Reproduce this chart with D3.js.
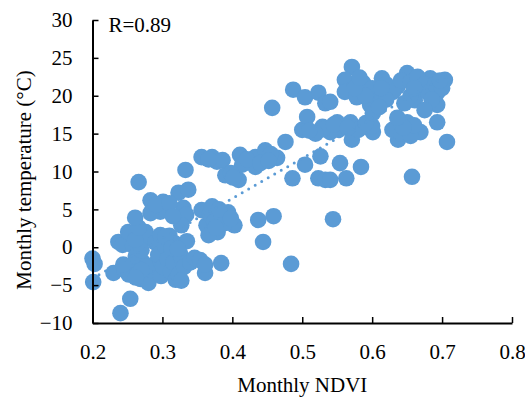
<!DOCTYPE html>
<html>
<head>
<meta charset="utf-8">
<script src="https://cdn.jsdelivr.net/npm/d3@7/dist/d3.min.js"></script>
<style>
  body { margin: 0; background: #fff; }
  svg { display: block; }
</style>
</head>
<body>
<div id="chart"></div>
<script>
// monthly NDVI (x) and monthly temperature (y)
const ndvi = [
  0.200, 0.203, 0.201, 0.230, 0.237, 0.243, 0.240, 0.254, 0.246, 0.252,
  0.256, 0.258, 0.251, 0.262, 0.266, 0.269, 0.272, 0.276, 0.281, 0.280,
  0.284, 0.288, 0.290, 0.294, 0.297, 0.298, 0.301, 0.304, 0.307, 0.310,
  0.312, 0.316, 0.318, 0.319, 0.323, 0.325, 0.327, 0.331, 0.335, 0.340,
  0.346, 0.354, 0.361, 0.270, 0.276, 0.270, 0.304, 0.313, 0.261, 0.266,
  0.322, 0.327, 0.262,
  0.261, 0.266, 0.283, 0.301, 0.297, 0.283, 0.323, 0.337, 0.330, 0.334,
  0.327, 0.356, 0.363, 0.333, 0.356, 0.291, 0.310, 0.315, 0.244,
  0.361, 0.384, 0.444, 0.437, 0.459, 0.403, 0.484, 0.368, 0.374, 0.379,
  0.385, 0.390, 0.394, 0.366, 0.371, 0.381, 0.398, 0.376,
  0.371, 0.378, 0.386, 0.411, 0.433, 0.447, 0.464, 0.390, 0.409, 0.433,
  0.414, 0.421, 0.440, 0.455, 0.452, 0.476, 0.486, 0.504, 0.523, 0.533,
  0.526, 0.500, 0.529, 0.507, 0.487, 0.504, 0.523, 0.533, 0.457, 0.398,
  0.366, 0.401,
  0.554, 0.584, 0.563, 0.540, 0.657, 0.544, 0.707, 0.571, 0.601, 0.587,
  0.550, 0.569, 0.637, 0.629, 0.669, 0.650, 0.693, 0.600, 0.552, 0.560,
  0.580, 0.540, 0.530, 0.519, 0.510, 0.545, 0.565, 0.591, 0.642, 0.655,
  0.660, 0.645,
  0.571, 0.561, 0.561, 0.587, 0.614, 0.650, 0.683, 0.704, 0.636, 0.669,
  0.693, 0.607, 0.578, 0.661, 0.693, 0.597, 0.540, 0.601, 0.636, 0.620,
  0.630, 0.641, 0.655, 0.665, 0.675, 0.680, 0.690, 0.700, 0.600, 0.590,
  0.575, 0.582, 0.655, 0.646, 0.620, 0.610, 0.685, 0.697, 0.675, 0.660,
  0.613
];
const temperature = [
  -1.5, -2.2, -4.6, -3.4, 0.7, 0.3, -8.7, -6.8, -3.0, -3.6,
  -2.4, 0.2, 2.0, -1.2, -3.4, -4.2, -2.0, 2.0, 1.2, -4.7,
  -3.0, -2.3, 0.6, -1.0, 1.6, -3.8, -2.6, 0.1, -1.6, 1.5,
  -3.2, -2.0, 0.5, -4.3, -3.6, -0.8, -1.3, -2.6, 0.8, -2.0,
  -1.4, -1.7, -3.4, -0.4, -2.6, -3.0, 1.4, -0.1, 1.0, 2.6,
  -0.2, -4.4, -4.0,
  3.9, 8.6, 6.2, 6.0, 4.7, 4.5, 7.2, 7.6, 5.2, 4.3,
  2.9, 4.9, 2.9, 10.2, 11.9, 5.6, 5.8, 4.1, -2.3,
  -2.3, -2.1, 0.7, 3.6, 4.1, 2.9, -2.2, 4.4, 3.4, 2.0,
  4.1, 3.2, 4.6, 1.6, 5.4, 5.0, 3.8, 2.6,
  11.9, 11.3, 11.5, 12.2, 11.9, 12.8, 11.8, 9.5, 8.9, 10.6,
  10.9, 11.6, 11.1, 12.3, 11.4, 13.9, 9.1, 10.9, 9.1, 8.9,
  12.0, 15.5, 15.9, 17.2, 20.8, 19.8, 20.4, 19.0, 18.4, 9.8,
  11.6, 9.2,
  11.1, 10.6, 9.1, 8.9, 9.3, 3.7, 13.9, 14.2, 15.2, 15.9,
  16.5, 16.5, 14.2, 15.5, 15.2, 16.5, 16.5, 16.0, 15.5, 16.0,
  15.5, 15.2, 15.6, 15.0, 15.4, 16.2, 15.8, 16.4, 15.0, 14.7,
  16.1, 15.8,
  23.8, 22.1, 20.5, 21.7, 22.3, 23.0, 22.3, 22.1, 21.2, 20.8,
  20.4, 20.4, 19.8, 19.4, 18.8, 18.8, 19.2, 17.7, 17.1, 21.5,
  20.5, 22.0, 21.8, 22.5, 21.5, 20.4, 21.5, 21.0, 21.0, 20.0,
  21.0, 22.4, 20.0, 19.0, 19.5, 18.5, 19.5, 22.0, 18.1, 21.0,
  21.0
];
const xTicks = [0.2, 0.3, 0.4, 0.5, 0.6, 0.7, 0.8];
const yTicks = [-10, -5, 0, 5, 10, 15, 20, 25, 30];
const rLabel = "R=0.89";

const width = 525, height = 398;
const margin = { top: 20, right: 13, bottom: 75, left: 92.5 };
const w = width - margin.left - margin.right;
const h = height - margin.top - margin.bottom;
const blue = "#5b9bd5";
const font = "'Liberation Serif', 'Times New Roman', serif";

const points = ndvi.map((x, i) => ({ x: x, y: temperature[i] }));

const x = d3.scaleLinear().domain([0.2, 0.8]).range([0, w]);
const y = d3.scaleLinear().domain([-10, 30]).range([h, 0]);

const svg = d3.select("#chart").append("svg")
  .attr("width", width)
  .attr("height", height)
  .append("g")
  .attr("transform", "translate(" + margin.left + "," + margin.top + ")");

// points
svg.selectAll(".dot")
  .data(points)
  .enter().append("circle")
  .attr("class", "dot")
  .attr("cx", d => x(d.x))
  .attr("cy", d => y(d.y))
  .attr("r", 8.3)
  .attr("fill", blue);

// linear trend line (least squares)
const mx = d3.mean(points, d => d.x), my = d3.mean(points, d => d.y);
const slope = d3.sum(points, d => (d.x - mx) * (d.y - my)) / d3.sum(points, d => (d.x - mx) ** 2);
const icpt = my - slope * mx;
const ext = d3.extent(points, d => d.x);
const trend = ext.map(v => ({ x: v, y: icpt + slope * v }));

svg.append("path")
  .datum(trend)
  .attr("fill", "none")
  .attr("stroke", blue)
  .attr("stroke-width", 3)
  .attr("stroke-linecap", "round")
  .attr("stroke-dasharray", "0,7.5")
  .attr("d", d3.line().x(d => x(d.x)).y(d => y(d.y)));

// axes
const xAxis = svg.append("g")
  .attr("transform", "translate(0," + h + ")")
  .call(d3.axisBottom(x).tickValues(xTicks).tickFormat(d3.format(".1f"))
    .tickSizeInner(-6).tickSizeOuter(0).tickPadding(21));

const yAxis = svg.append("g")
  .call(d3.axisLeft(y).tickValues(yTicks)
    .tickSizeInner(-6).tickSizeOuter(0).tickPadding(20));

[xAxis, yAxis].forEach(g => {
  g.select(".domain").attr("stroke", "#000").attr("stroke-width", 2);
  g.selectAll(".tick line").attr("stroke", "#000").attr("stroke-width", 1.5);
  g.selectAll("text")
    .attr("font-family", font)
    .attr("font-size", 21)
    .attr("fill", "#000");
});

// R label
svg.append("text")
  .attr("x", 16)
  .attr("y", 12)
  .attr("font-family", font)
  .attr("font-size", 21)
  .text(rLabel);

// axis titles
svg.append("text")
  .attr("x", w / 2)
  .attr("y", h + 69)
  .attr("text-anchor", "middle")
  .attr("font-family", font)
  .attr("font-size", 21)
  .text("Monthly NDVI");

svg.append("text")
  .attr("transform", "translate(" + (31 - margin.left) + "," + (180 - margin.top) + ") rotate(-90)")
  .attr("text-anchor", "middle")
  .attr("font-family", font)
  .attr("font-size", 21)
  .text("Monthly temperature (°C)");
</script>
</body>
</html>
